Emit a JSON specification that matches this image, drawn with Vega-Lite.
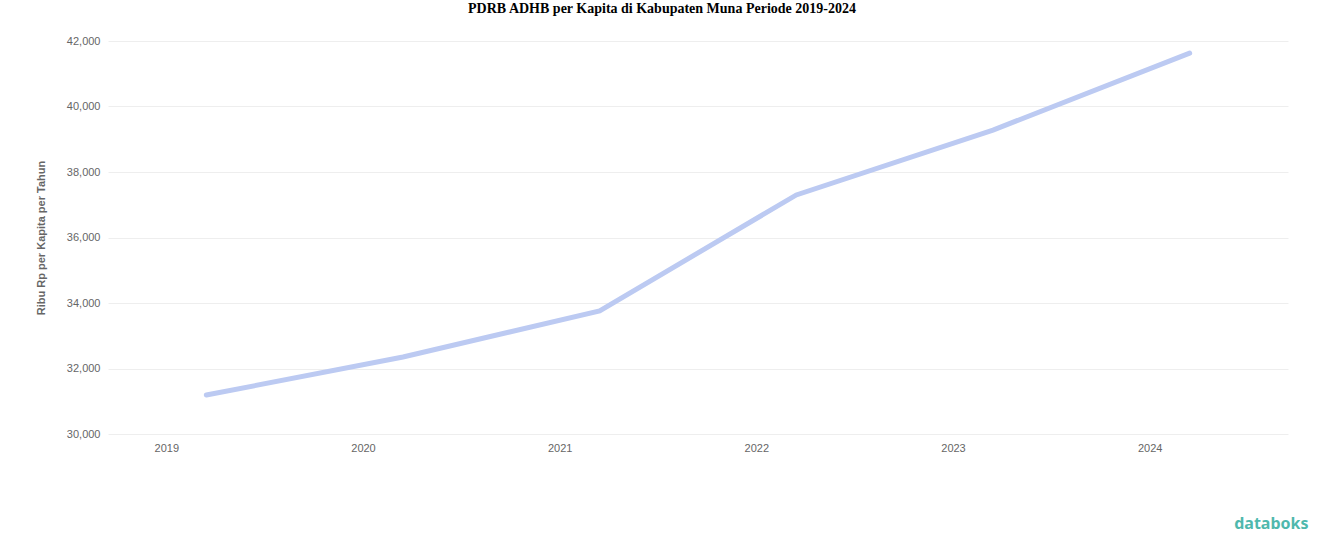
{
  "$schema": "https://vega.github.io/schema/vega-lite/v6.json",
  "autosize": {"type": "none"},
  "width": 1180,
  "height": 393,
  "padding": {"left": 108, "top": 41, "right": 36, "bottom": 113},
  "background": "white",
  "title": {
    "text": "PDRB ADHB per Kapita di Kabupaten Muna Periode 2019-2024",
    "font": "Liberation Serif",
    "fontSize": 14,
    "fontWeight": "bold",
    "color": "#000000",
    "anchor": "middle",
    "dx": -36,
    "offset": 19
  },
  "config": {"view": {"stroke": null}},
  "data": {
    "values": [
      {"tahun": "2019", "nilai": 31190},
      {"tahun": "2020", "nilai": 32350},
      {"tahun": "2021", "nilai": 33760},
      {"tahun": "2022", "nilai": 37300},
      {"tahun": "2023", "nilai": 39280},
      {"tahun": "2024", "nilai": 41630}
    ]
  },
  "mark": {"type": "line", "color": "#bccaf2", "strokeWidth": 5, "strokeCap": "round"},
  "encoding": {
    "x": {
      "field": "tahun",
      "type": "ordinal",
      "scale": {"type": "point", "padding": 0.5},
      "axis": {
        "title": "databoks",
        "titleFont": "Noto Sans",
        "titleFontSize": 16,
        "titleFontWeight": "bold",
        "titleColor": "#4fb8ad",
        "titleAnchor": "end",
        "titleX": 1200,
        "titlePadding": 62,
        "labelAngle": 0,
        "labelOffset": -40,
        "labelPadding": 8,
        "labelFont": "Liberation Sans",
        "labelFontSize": 11,
        "labelColor": "#666666",
        "domain": false,
        "ticks": false,
        "grid": false
      }
    },
    "y": {
      "field": "nilai",
      "type": "quantitative",
      "scale": {"domain": [30000, 42000], "nice": false, "zero": false},
      "axis": {
        "title": "Ribu Rp per Kapita per Tahun",
        "titleFont": "Liberation Sans",
        "titleFontSize": 11,
        "titleFontWeight": "bold",
        "titleColor": "#666666",
        "titlePadding": 20,
        "values": [30000, 32000, 34000, 36000, 38000, 40000, 42000],
        "format": ",d",
        "labelPadding": 8,
        "labelFont": "Liberation Sans",
        "labelFontSize": 11,
        "labelColor": "#666666",
        "domain": false,
        "ticks": false,
        "gridColor": "#eeeeee"
      }
    }
  }
}
